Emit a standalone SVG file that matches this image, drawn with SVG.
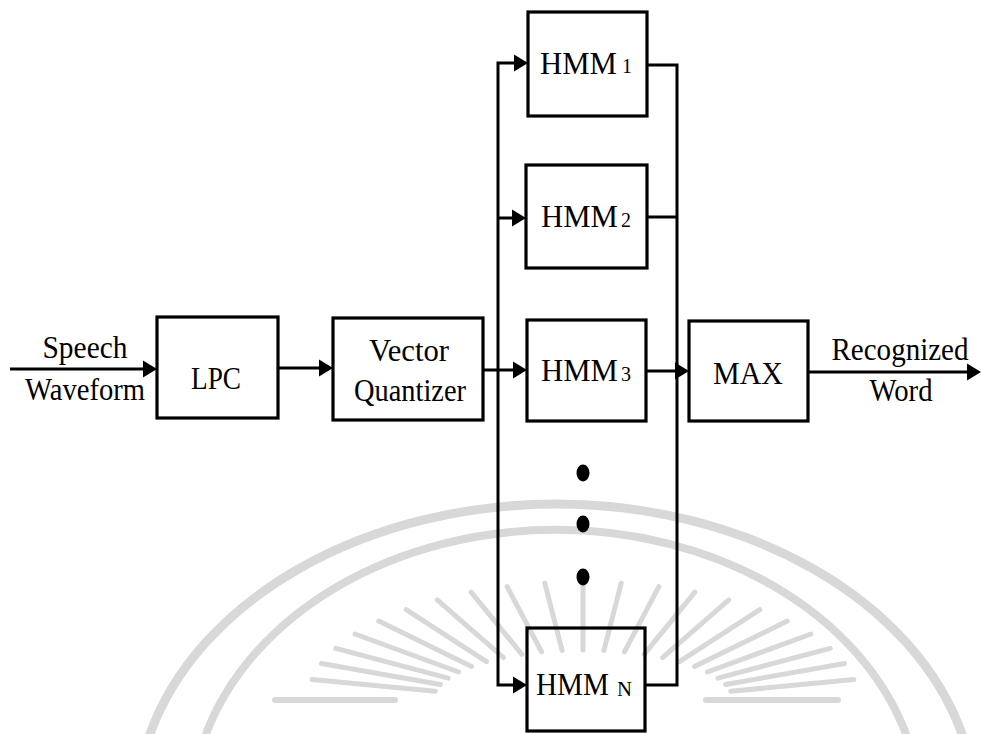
<svg xmlns="http://www.w3.org/2000/svg" xmlns:xlink="http://www.w3.org/1999/xlink" width="981" height="734" viewBox="0 0 981 734">
  <style>
    .wm { fill: none; stroke: #d8d8d8; stroke-linecap: round; }
    .box { fill: none; stroke: #000; stroke-width: 3.2; }
    .wire { fill: none; stroke: #000; stroke-width: 3; stroke-linejoin: miter; }
    .t { font-family: "Liberation Serif", "Times New Roman", serif; font-size: 32px; fill: #000; text-anchor: middle; }
    .s { font-family: "Liberation Serif", "Times New Roman", serif; font-size: 32px; fill: #000; }
    .sub { font-size: 20px; }
  </style>
  <defs>
    <path id="ah" d="M-14,-8.5 L0,0 L-14,8.5 Z" fill="#000"/>
  </defs>

  <rect width="981" height="734" fill="#fff"/>

  <!-- faint background seal -->
  <g id="seal">
    <path class="wm" stroke-width="9" d="M150,734 A420,309 0 0 1 962,734"/>
    <path class="wm" stroke-width="8" d="M206,734 A365,285 0 0 1 906,734"/>
    <g stroke-width="5" class="wm">
      <line x1="730.8" y1="691.3" x2="853.9" y2="679.5"/>
      <line x1="725.7" y1="684.5" x2="844.5" y2="663.5"/>
      <line x1="717.9" y1="678.1" x2="830.2" y2="648.3"/>
      <line x1="707.4" y1="672.0" x2="811.0" y2="634.0"/>
      <line x1="694.5" y1="666.5" x2="787.3" y2="621.1"/>
      <line x1="679.5" y1="661.7" x2="759.8" y2="609.6"/>
      <line x1="662.5" y1="657.6" x2="728.8" y2="599.9"/>
      <line x1="644.1" y1="654.3" x2="694.9" y2="592.1"/>
      <line x1="624.4" y1="651.9" x2="658.9" y2="586.6"/>
      <line x1="603.9" y1="650.5" x2="621.2" y2="583.2"/>
      <line x1="583" y1="650" x2="583" y2="582"/>
      <line x1="562.1" y1="650.5" x2="544.8" y2="583.2"/>
      <line x1="541.6" y1="651.9" x2="507.1" y2="586.6"/>
      <line x1="521.9" y1="654.3" x2="471.1" y2="592.1"/>
      <line x1="503.5" y1="657.6" x2="437.2" y2="599.9"/>
      <line x1="486.5" y1="661.7" x2="406.2" y2="609.6"/>
      <line x1="471.5" y1="666.5" x2="378.7" y2="621.1"/>
      <line x1="458.6" y1="672.0" x2="355.0" y2="634.0"/>
      <line x1="448.1" y1="678.1" x2="335.8" y2="648.3"/>
      <line x1="440.3" y1="684.5" x2="321.5" y2="663.5"/>
      <line x1="435.2" y1="691.3" x2="312.1" y2="679.5"/>
    </g>
    <path class="wm" stroke-width="6" d="M275,700 H395 M706,700 H838"/>
  </g>

  <!-- connectors -->
  <g id="connectors">
    <path class="wire" d="M10,369 H145"/>
    <use xlink:href="#ah" x="157" y="369"/>

    <path class="wire" d="M278,368 H321"/>
    <use xlink:href="#ah" x="333" y="368"/>

    <path class="wire" d="M483,370 H515"/>
    <use xlink:href="#ah" x="527" y="370"/>

    <!-- fan-out bus -->
    <path class="wire" d="M516,63 H498 V685 H515"/>
    <use xlink:href="#ah" x="528" y="63"/>
    <path class="wire" d="M498,218 H514"/>
    <use xlink:href="#ah" x="526" y="218"/>
    <use xlink:href="#ah" x="527" y="685"/>

    <!-- fan-in bus -->
    <path class="wire" d="M647,65 H677 V685 H645"/>
    <path class="wire" d="M647,217 H677"/>
    <path class="wire" d="M646,371 H677"/>
    <use xlink:href="#ah" x="689" y="371"/>

    <path class="wire" d="M808,372 H969"/>
    <use xlink:href="#ah" x="981" y="372"/>
  </g>

  <!-- input / output labels -->
  <g id="input-label">
    <text class="t" x="85" y="358" textLength="85" lengthAdjust="spacingAndGlyphs">Speech</text>
    <text class="t" x="85" y="400" textLength="120" lengthAdjust="spacingAndGlyphs">Waveform</text>
  </g>
  <g id="output-label">
    <text class="t" x="900" y="360" textLength="137" lengthAdjust="spacingAndGlyphs">Recognized</text>
    <text class="t" x="901" y="401" textLength="63" lengthAdjust="spacingAndGlyphs">Word</text>
  </g>

  <g id="lpc">
    <rect class="box" x="157" y="317" width="121" height="101"/>
    <text class="t" x="216" y="389" textLength="50" lengthAdjust="spacingAndGlyphs">LPC</text>
  </g>

  <g id="vq">
    <rect class="box" x="333" y="318" width="150" height="102"/>
    <text class="t" x="409" y="361" textLength="80" lengthAdjust="spacingAndGlyphs">Vector</text>
    <text class="t" x="410" y="401" textLength="112" lengthAdjust="spacingAndGlyphs">Quantizer</text>
  </g>

  <g id="hmm1">
    <rect class="box" x="528" y="12" width="119" height="104"/>
    <text class="s" x="540" y="74"><tspan textLength="77" lengthAdjust="spacingAndGlyphs">HMM</tspan><tspan class="sub" x="622" y="73">1</tspan></text>
  </g>

  <g id="hmm2">
    <rect class="box" x="526" y="165" width="121" height="103"/>
    <text class="s" x="541" y="227"><tspan textLength="77" lengthAdjust="spacingAndGlyphs">HMM</tspan><tspan class="sub" x="621" y="227">2</tspan></text>
  </g>

  <g id="hmm3">
    <rect class="box" x="527" y="320" width="119" height="101"/>
    <text class="s" x="541" y="381"><tspan textLength="77" lengthAdjust="spacingAndGlyphs">HMM</tspan><tspan class="sub" x="621" y="381">3</tspan></text>
  </g>

  <g id="ellipsis">
    <ellipse cx="583" cy="473" rx="6.5" ry="8.5"/>
    <ellipse cx="583" cy="524" rx="6.5" ry="8.5"/>
    <ellipse cx="583" cy="577" rx="6.5" ry="8.5"/>
  </g>

  <g id="hmmN">
    <rect class="box" x="527" y="628" width="118" height="103"/>
    <text class="s" x="536" y="695"><tspan textLength="73" lengthAdjust="spacingAndGlyphs">HMM</tspan><tspan class="sub" x="617" y="696" textLength="15" lengthAdjust="spacingAndGlyphs">N</tspan></text>
  </g>

  <g id="max">
    <rect class="box" x="689" y="321" width="119" height="100"/>
    <text class="t" x="748" y="384" textLength="70" lengthAdjust="spacingAndGlyphs">MAX</text>
  </g>
</svg>
